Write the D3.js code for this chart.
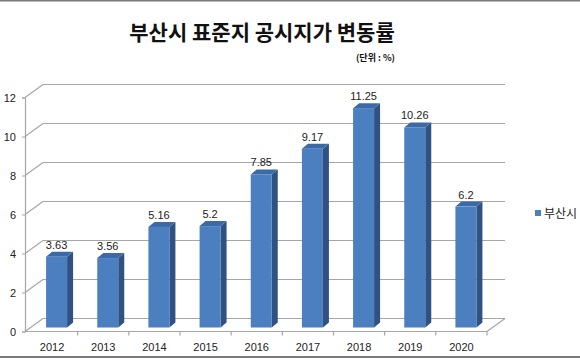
<!DOCTYPE html>
<html><head><meta charset="utf-8">
<script src="https://cdn.jsdelivr.net/npm/d3@7"></script>
<style>body{margin:0;background:#fff}svg{display:block}</style>
</head><body>
<svg id="c" width="580" height="360"></svg>
<script>
const years = ["2012","2013","2014","2015","2016","2017","2018","2019","2020"];
const values = [3.63, 3.56, 5.16, 5.2, 7.85, 9.17, 11.25, 10.26, 6.2];
const yTicks = [0, 2, 4, 6, 8, 10, 12];
const seriesName = "부산시";
const title = "부산시 표준지 공시지가 변동률";
const unitText = "(단위 : %)";

const svg = d3.select("#c");
const font = "'Liberation Sans', Arial, sans-serif";
const kfont = "'Noto Sans CJK KR', sans-serif";

// borders
svg.append("rect").attr("x",0).attr("y",0).attr("width",580).attr("height",1.5).attr("fill","#7a7a7a");
svg.append("rect").attr("x",0).attr("y",356).attr("width",580).attr("height",2).attr("fill","#7a7a7a");

const x = d3.scaleBand().domain(years).range([26.5, 487]).paddingInner(0).paddingOuter(0);
const y = d3.scaleLinear().domain([0, 12]).range([331.5, 97.5]);
const DX = 18, DY = -13;   // wall depth
const BX = 4.5, BY = -4;   // bar plane offset
const bw = 21, bdx = 6, bdy = -5;

const grid = "#a6a6a6";
yTicks.forEach(t => {
  const yy = y(t);
  svg.append("line").attr("x1",25).attr("y1",yy).attr("x2",25+DX).attr("y2",yy+DY)
    .attr("stroke",grid).attr("stroke-width",1.2);
  svg.append("line").attr("x1",25+DX).attr("y1",yy+DY).attr("x2",487+DX).attr("y2",yy+DY)
    .attr("stroke",grid).attr("stroke-width",1.2);
});
svg.append("line").attr("x1",487).attr("y1",y(0)).attr("x2",487+DX).attr("y2",y(0)+DY)
  .attr("stroke",grid).attr("stroke-width",1.2);

const yAxis = svg.append("g").attr("transform","translate(25,0)")
  .call(d3.axisLeft(y).tickValues(yTicks).tickSize(3).tickPadding(6).tickFormat(d3.format("d")));
yAxis.select(".domain").attr("stroke",grid).attr("stroke-width",1.2);
yAxis.selectAll(".tick line").attr("stroke",grid);
yAxis.selectAll("text").attr("font-family",font).attr("font-size",11).attr("fill","#222");

const xAxis = svg.append("g").attr("transform",`translate(0,${y(0)})`)
  .call(d3.axisBottom(x).tickSize(0).tickPadding(12));
xAxis.select(".domain").attr("d",`M25,0H487`).attr("stroke",grid).attr("stroke-width",1.2);
xAxis.selectAll("text").attr("font-family",font).attr("font-size",11).attr("fill","#222");
d3.range(1, years.length + 1).forEach(i => {
  const xx = 26.5 + i * x.bandwidth();
  svg.append("line").attr("x1",xx).attr("x2",xx).attr("y1",y(0)).attr("y2",y(0)+4)
    .attr("stroke",grid).attr("stroke-width",1.2);
});

const bars = svg.append("g");
years.forEach((yr, i) => {
  const v = values[i];
  const x0 = x(yr) + x.bandwidth()/2 - bw/2 + BX;
  const x1 = x0 + bw;
  const yb = y(0) + BY, yt = y(v) + BY;
  bars.append("path").attr("d",`M${x1},${yt}L${x1+bdx},${yt+bdy}L${x1+bdx},${yb+bdy}L${x1},${yb}Z`)
    .attr("fill","#2f5283");
  bars.append("path").attr("d",`M${x0},${yt}L${x0+bdx},${yt+bdy}L${x1+bdx},${yt+bdy}L${x1},${yt}Z`)
    .attr("fill","#3c6aa6");
  bars.append("rect").attr("x",x0).attr("y",yt).attr("width",bw).attr("height",yb-yt)
    .attr("fill","#4b7fc0");
  bars.append("text").attr("x",x0 + bw/2).attr("y",yt - 8)
    .attr("text-anchor","middle").attr("font-family",font).attr("font-size",11)
    .attr("fill","#222").text(v);
});

svg.append("text").attr("x",262).attr("y",40).attr("text-anchor","middle")
  .attr("font-family",kfont).attr("font-weight","bold").attr("font-size",21)
  .attr("fill","#111").text(title);
svg.append("text").attr("x",395).attr("y",61).attr("text-anchor","end")
  .attr("font-family",kfont).attr("font-weight","bold").attr("font-size",9)
  .attr("fill","#111").text(unitText);

svg.append("rect").attr("x",535).attr("y",210).attr("width",6).attr("height",6).attr("fill","#4b7fc0");
svg.append("text").attr("x",544).attr("y",217.5).attr("font-family",kfont).attr("font-size",12)
  .attr("fill","#222").text(seriesName);
</script>
</body></html>
